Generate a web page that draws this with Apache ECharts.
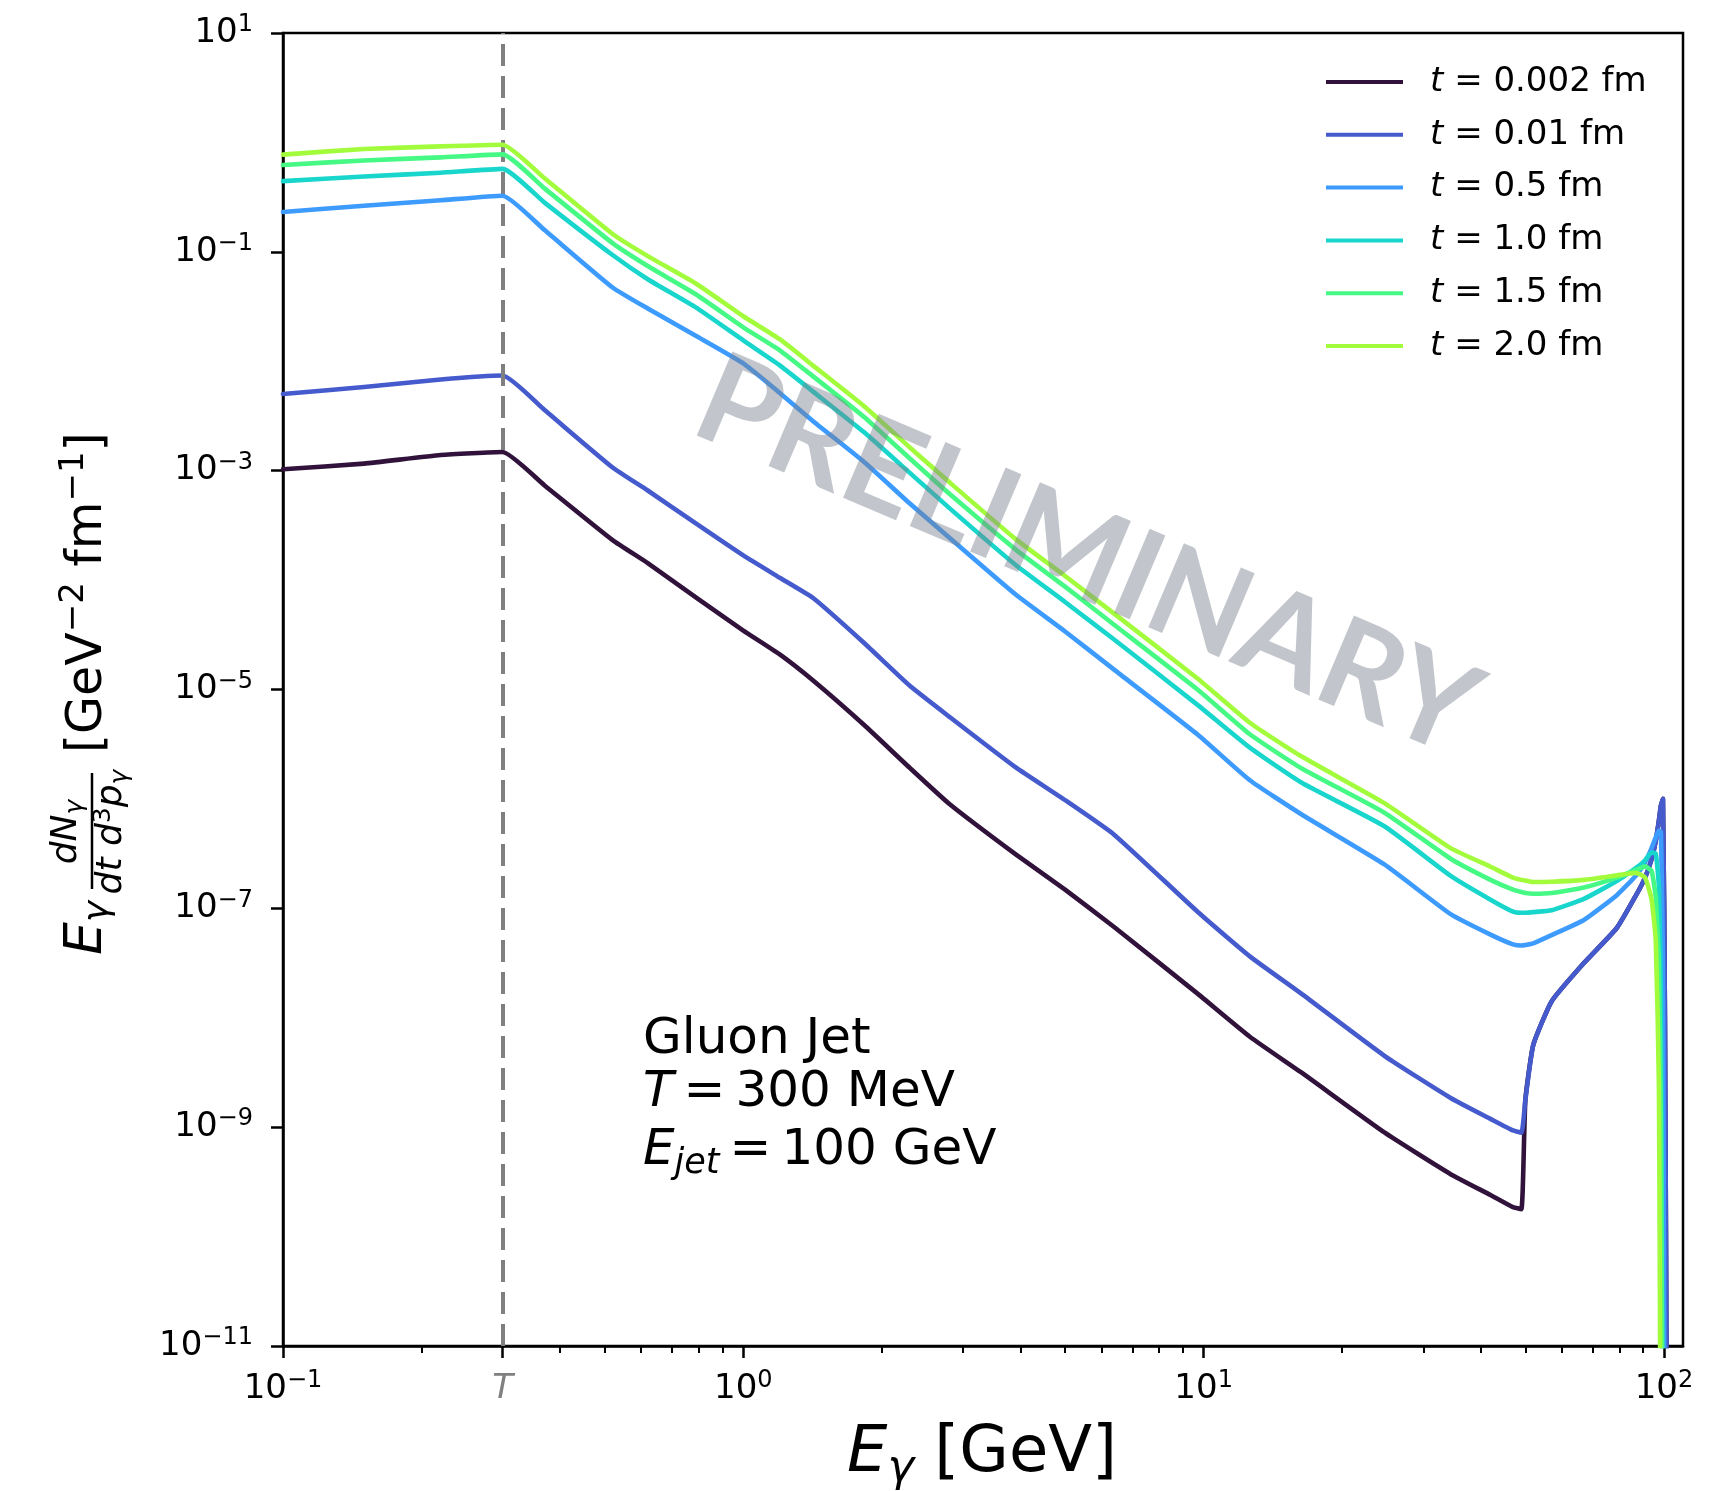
<!DOCTYPE html>
<html>
<head>
<meta charset="utf-8">
<title>Gluon jet photon rate</title>
<script src="https://cdn.jsdelivr.net/npm/echarts@6.0.0/dist/echarts.min.js"></script>
<style>
  html, body { margin: 0; padding: 0; background: #fff; }
  #chart { width: 1727px; height: 1491px; }
</style>
</head>
<body>
<div id="chart"></div>
<script>
// photon energy grid [GeV]
const energy = [0.1, 0.15, 0.22, 0.3, 0.37, 0.52, 0.62, 0.79, 1.0, 1.2, 1.42, 1.83, 2.3, 2.8, 3.9, 5.0, 6.4, 9.7,
  12.6, 16.3, 24.7, 34.4, 42, 47, 49, 50, 52, 57, 67, 79, 87, 91, 94, 96, 97.5, 98.5, 99.5, 100.5, 101.5]

// E dN/(dt d3p) for each time step
const rate_t0002 = [1.03e-3, 1.16e-3, 1.39e-3, 1.48e-3, 7.33e-4, 2.32e-4, 1.43e-4, 6.92e-5, 3.46e-5, 2.09e-5, 1.20e-5,
  4.73e-6, 1.92e-6, 9.04e-7, 3.13e-7, 1.48e-7, 6.71e-8, 1.66e-8, 6.71e-9, 3.16e-9, 8.95e-10, 3.72e-10, 2.40e-10,
  1.86e-10, 1.78e-10, 1.78e-9, 5.62e-9, 1.41e-8, 3.16e-8, 6.61e-8, 1.32e-7, 1.91e-7, 2.82e-7, 4.17e-7, 6.31e-7,
  8.71e-7, 1.00e-6, 1.0e-8, 1e-12]
const rate_t001 = [5.02e-3, 5.81e-3, 6.82e-3, 7.40e-3, 3.58e-3, 1.07e-3, 6.59e-4, 3.28e-4, 1.68e-4, 1.05e-4, 6.82e-5,
  2.66e-5, 1.08e-5, 5.65e-6, 1.95e-6, 9.75e-7, 4.69e-7, 9.31e-8, 3.64e-8, 1.66e-8, 4.49e-9, 1.85e-9, 1.19e-9,
  9.33e-10, 8.91e-10, 1.78e-9, 5.62e-9, 1.41e-8, 3.16e-8, 6.61e-8, 1.32e-7, 1.91e-7, 2.82e-7, 4.17e-7, 6.31e-7,
  8.71e-7, 1.00e-6, 1.0e-8, 1e-12]
const rate_t05 = [0.231, 0.264, 0.296, 0.326, 0.158, 0.0472, 0.0303, 0.0170, 9.55e-3, 5.13e-3, 2.82e-3,
  1.20e-3, 5.01e-4, 2.45e-4, 7.41e-5, 3.39e-5, 1.51e-5, 3.88e-6, 1.48e-6, 7.24e-7, 2.52e-7, 8.85e-8, 5.75e-8,
  4.68e-8, 4.57e-8, 4.62e-8, 4.79e-8, 5.69e-8, 7.83e-8, 1.32e-7, 2.00e-7, 2.63e-7, 3.55e-7, 4.47e-7, 5.13e-7,
  5.01e-7, 3.16e-8, 1e-12, 1e-12]
const rate_t10 = [0.443, 0.488, 0.528, 0.573, 0.282, 0.0935, 0.0562, 0.0309, 0.0155, 9.18e-3, 5.25e-3,
  2.24e-3, 9.55e-4, 4.57e-4, 1.38e-4, 6.31e-5, 2.85e-5, 7.24e-6, 2.94e-6, 1.41e-6, 5.62e-7, 1.98e-7, 1.20e-7,
  9.33e-8, 9.12e-8, 9.12e-8, 9.23e-8, 9.59e-8, 1.22e-7, 1.78e-7, 2.34e-7, 2.75e-7, 3.24e-7, 3.16e-7, 1.58e-7,
  1.58e-8, 1e-12, 1e-12, 1e-12]
const rate_t15 = [0.621, 0.684, 0.730, 0.778, 0.380, 0.120, 0.0741, 0.0407, 0.0204, 0.0126, 7.24e-3,
  3.09e-3, 1.29e-3, 6.17e-4, 1.91e-4, 8.71e-5, 3.89e-5, 1.00e-5, 3.90e-6, 1.91e-6, 7.48e-7, 2.84e-7, 1.82e-7,
  1.48e-7, 1.41e-7, 1.38e-7, 1.36e-7, 1.38e-7, 1.55e-7, 1.91e-7, 2.24e-7, 2.42e-7, 2.19e-7, 1.26e-7, 3.16e-8,
  1.0e-9, 1e-12, 1e-12, 1e-12]
const rate_t20 = [0.773, 0.871, 0.920, 0.951, 0.470, 0.1455, 0.0914, 0.0511, 0.0258, 0.0159, 9.08e-3,
  3.88e-3, 1.63e-3, 7.87e-4, 2.38e-4, 1.09e-4, 4.91e-5, 1.26e-5, 4.97e-6, 2.45e-6, 9.16e-7, 3.55e-7, 2.40e-7,
  1.91e-7, 1.82e-7, 1.80e-7, 1.74e-7, 1.75e-7, 1.82e-7, 2.00e-7, 2.11e-7, 1.91e-7, 1.20e-7, 5.01e-8, 2.51e-9,
  1e-12, 1e-12, 1e-12, 1e-12]

const seriesNames = ['t = 0.002 fm', 't = 0.01 fm', 't = 0.5 fm', 't = 1.0 fm', 't = 1.5 fm', 't = 2.0 fm']
const seriesColors = ['#30123b', '#455bcd', '#3e9bfe', '#18d6cb', '#46f884', '#a2fc3c']
const seriesValues = [rate_t0002, rate_t001, rate_t05, rate_t10, rate_t15, rate_t20]

const tempT = 0.3
const xMajorTicks = [0.1, 0.3, 1, 10, 100]
const xMinorTicks = [0.2, 0.4, 0.5, 0.6, 0.7, 0.8, 0.9, 2, 3, 4, 5, 6, 7, 8, 9, 20, 30, 40, 50, 60, 70, 80, 90]
const yMajorTicks = [10, 1e-1, 1e-3, 1e-5, 1e-7, 1e-9, 1e-11]

const FONT = 'DejaVu Sans'
const MINUS = '\u2212'
const THIN = '\u2009'

function powLabel(v) {
  if (Math.abs(v - tempT) < 0.01) return '{t|T}'
  const e = Math.round(Math.log10(v))
  return '{b|10}{s|' + (e < 0 ? MINUS + (-e) : e) + '}'
}

const tickRich = {
  b: { fontFamily: FONT, fontSize: 34, lineHeight: 40, color: '#000' },
  s: { fontFamily: FONT, fontSize: 24, lineHeight: 24, color: '#000', verticalAlign: 'top' },
  t: { fontFamily: FONT, fontSize: 34, lineHeight: 40, color: '#808080', fontStyle: 'italic' },
}

const chart = echarts.init(document.getElementById('chart'), null, { renderer: 'canvas' })

const series = seriesValues.map((vals, i) => {
  const s = {
    name: seriesNames[i],
    type: 'line',
    data: energy.map((e, j) => [e, vals[j]]),
    showSymbol: false,
    symbol: 'none',
    smooth: 0.15,
    clip: true,
    z: 3 + i,
    lineStyle: { width: 4.6, color: seriesColors[i], cap: 'round', join: 'round' },
    itemStyle: { color: seriesColors[i] },
  }
  if (i === 0) {
    s.markLine = {
      silent: true,
      symbol: ['none', 'none'],
      label: { show: false },
      lineStyle: { color: '#808080', width: 4, type: [22, 10] },
      data: [{ xAxis: tempT }],
    }
  }
  return s
})

chart.setOption({
  animation: false,
  backgroundColor: '#fff',
  textStyle: { fontFamily: FONT },
  grid: {
    left: 283, right: 44, top: 33, bottom: 145,
    show: true, borderColor: '#000', borderWidth: 2.5,
    containLabel: false, outerBoundsMode: 'none',
  },
  legend: {
    orient: 'vertical',
    left: 1321, top: 60,
    icon: 'rect',
    itemWidth: 77, itemHeight: 4, itemGap: 18.8,
    data: seriesNames,
    formatter: name => '{i|t}{n|' + name.slice(1) + '}',
    textStyle: {
      padding: [0, 0, 0, 22],
      rich: {
        i: { fontFamily: FONT, fontSize: 34, lineHeight: 40, fontStyle: 'italic', color: '#000' },
        n: { fontFamily: FONT, fontSize: 34, lineHeight: 40, color: '#000' },
      },
    },
  },
  xAxis: [
    {
      type: 'log', logBase: 10, min: 0.1, max: 110, position: 'bottom', offset: 0,
      axisLine: { show: true, lineStyle: { color: '#000', width: 2.5 } },
      axisTick: { show: true, customValues: xMajorTicks, length: 12, inside: false, lineStyle: { color: '#000', width: 2.5 } },
      axisLabel: { show: true, customValues: xMajorTicks, margin: 23, formatter: powLabel, rich: tickRich },
      splitLine: { show: false },
      minorTick: { show: false },
    },
    {
      type: 'log', logBase: 10, min: 0.1, max: 110, position: 'bottom', offset: 0,
      axisLine: { show: false },
      axisTick: { show: true, customValues: xMinorTicks, length: 7, inside: false, lineStyle: { color: '#000', width: 2 } },
      axisLabel: { show: false },
      splitLine: { show: false },
    },
  ],
  yAxis: {
    type: 'log', logBase: 10, min: 1e-11, max: 10,
    axisLine: { show: true, lineStyle: { color: '#000', width: 2.5 } },
    axisTick: { show: true, customValues: yMajorTicks, length: 12, inside: false, lineStyle: { color: '#000', width: 2.5 } },
    axisLabel: { show: true, customValues: yMajorTicks, margin: 30, formatter: powLabel, rich: tickRich },
    splitLine: { show: false },
    minorTick: { show: false },
  },
  series: series,
  graphic: [
    // x axis title
    {
      type: 'text', x: 982, y: 1454, silent: true,
      style: {
        text: '{i|E}{g|γ}{n| [GeV]}', align: 'center', verticalAlign: 'middle',
        rich: {
          i: { fontFamily: FONT, fontSize: 64, lineHeight: 76, fontStyle: 'italic', color: '#000' },
          g: { fontFamily: FONT, fontSize: 45, lineHeight: 56, fontStyle: 'italic', verticalAlign: 'bottom', color: '#000' },
          n: { fontFamily: FONT, fontSize: 64, lineHeight: 76, color: '#000' },
        },
      },
    },
    // y axis title, rotated
    {
      type: 'group', x: 105, y: 955, rotation: Math.PI / 2, silent: true,
      children: [
        {
          type: 'text', x: 0, y: -18,
          style: {
            text: '{i|E}{g|γ}', align: 'left', verticalAlign: 'middle',
            rich: {
              i: { fontFamily: FONT, fontSize: 52, lineHeight: 60, fontStyle: 'italic', color: '#000' },
              g: { fontFamily: FONT, fontSize: 36, lineHeight: 40, fontStyle: 'italic', verticalAlign: 'bottom', color: '#000' },
            },
          },
        },
        {
          type: 'text', x: 123, y: -38,
          style: {
            text: '{i|dN}{g|γ}', align: 'center', verticalAlign: 'middle',
            rich: {
              i: { fontFamily: FONT, fontSize: 36, lineHeight: 42, fontStyle: 'italic', color: '#000' },
              g: { fontFamily: FONT, fontSize: 25, lineHeight: 30, fontStyle: 'italic', verticalAlign: 'bottom', color: '#000' },
            },
          },
        },
        {
          type: 'line', shape: { x1: 66, y1: -13, x2: 182, y2: -13 },
          style: { stroke: '#000', lineWidth: 2.5 },
        },
        {
          type: 'text', x: 123, y: 7,
          style: {
            text: '{i|dt d}{s|3}{i|p}{g|γ}', align: 'center', verticalAlign: 'middle',
            rich: {
              i: { fontFamily: FONT, fontSize: 36, lineHeight: 42, fontStyle: 'italic', color: '#000' },
              s: { fontFamily: FONT, fontSize: 25, lineHeight: 28, verticalAlign: 'top', color: '#000' },
              g: { fontFamily: FONT, fontSize: 25, lineHeight: 30, fontStyle: 'italic', verticalAlign: 'bottom', color: '#000' },
            },
          },
        },
        {
          type: 'text', x: 202, y: -17,
          style: {
            text: '{n|[GeV}{s|' + MINUS + '2}{n| fm}{s|' + MINUS + '1}{n|]}', align: 'left', verticalAlign: 'middle',
            rich: {
              n: { fontFamily: FONT, fontSize: 49, lineHeight: 62, color: '#000' },
              s: { fontFamily: FONT, fontSize: 34, lineHeight: 34, verticalAlign: 'top', color: '#000' },
            },
          },
        },
      ],
    },
    // annotation
    {
      type: 'text', x: 643, y: 1040, silent: true,
      style: { text: 'Gluon Jet', fontFamily: FONT, fontSize: 50, fill: '#000', align: 'left', verticalAlign: 'middle' },
    },
    {
      type: 'text', x: 643, y: 1093, silent: true,
      style: {
        text: '{i|T}{n|' + THIN + '=' + THIN + '300 MeV}', align: 'left', verticalAlign: 'middle',
        rich: {
          i: { fontFamily: FONT, fontSize: 50, lineHeight: 60, fontStyle: 'italic', color: '#000' },
          n: { fontFamily: FONT, fontSize: 50, lineHeight: 60, color: '#000' },
        },
      },
    },
    {
      type: 'text', x: 643, y: 1151, silent: true,
      style: {
        text: '{i|E}{j|jet}{n|' + THIN + '=' + THIN + '100 GeV}', align: 'left', verticalAlign: 'middle',
        rich: {
          i: { fontFamily: FONT, fontSize: 50, lineHeight: 60, fontStyle: 'italic', color: '#000' },
          j: { fontFamily: FONT, fontSize: 35, lineHeight: 38, fontStyle: 'italic', verticalAlign: 'bottom', color: '#000' },
          n: { fontFamily: FONT, fontSize: 50, lineHeight: 60, color: '#000' },
        },
      },
    },
    // watermark
    {
      type: 'text', x: 1087, y: 557, rotation: -23 * Math.PI / 180, z: 100, silent: true,
      style: {
        text: 'PRELIMINARY', fontFamily: 'Lato', fontWeight: 'bold', fontSize: 126,
        fill: 'rgba(119,126,139,0.45)', align: 'center', verticalAlign: 'middle',
      },
    },
  ],
})
</script>
</body>
</html>
